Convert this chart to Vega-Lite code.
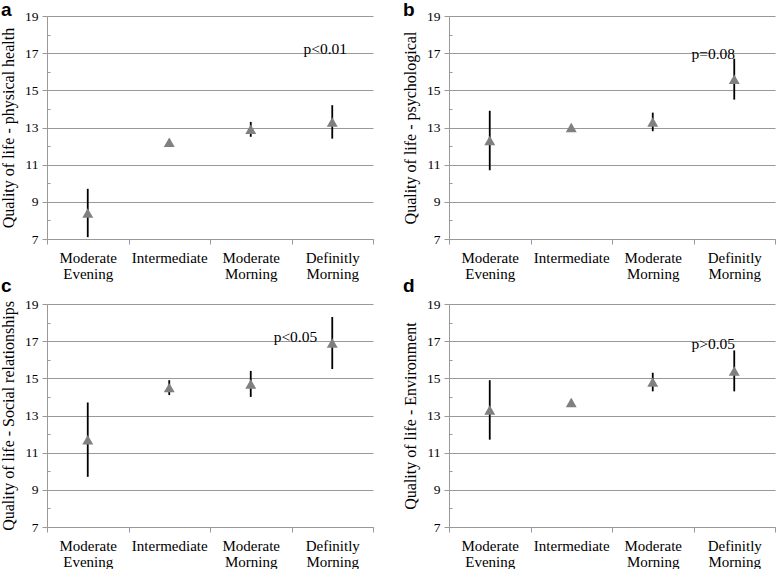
{
  "$schema": "https://vega.github.io/schema/vega-lite/v6.json",
  "padding": {"left": 0, "top": 1, "right": 0, "bottom": 0},
  "background": "white",
  "bounds": "flush",
  "datasets": {
    "pts": [
      {"panel": "a", "cat": "Moderate|Evening", "mean": 8.4, "lo": 7.1, "hi": 9.7},
      {"panel": "a", "cat": "Intermediate", "mean": 12.2, "lo": 12.05, "hi": 12.35},
      {"panel": "a", "cat": "Moderate|Morning", "mean": 12.9, "lo": 12.5, "hi": 13.3},
      {"panel": "a", "cat": "Definitly|Morning", "mean": 13.3, "lo": 12.4, "hi": 14.2},
      {"panel": "b", "cat": "Moderate|Evening", "mean": 12.3, "lo": 10.7, "hi": 13.9},
      {"panel": "b", "cat": "Intermediate", "mean": 13.0, "lo": 12.85, "hi": 13.15},
      {"panel": "b", "cat": "Moderate|Morning", "mean": 13.3, "lo": 12.8, "hi": 13.8},
      {"panel": "b", "cat": "Definitly|Morning", "mean": 15.6, "lo": 14.5, "hi": 16.7},
      {"panel": "c", "cat": "Moderate|Evening", "mean": 11.7, "lo": 9.7, "hi": 13.7},
      {"panel": "c", "cat": "Intermediate", "mean": 14.5, "lo": 14.1, "hi": 14.9},
      {"panel": "c", "cat": "Moderate|Morning", "mean": 14.7, "lo": 14.0, "hi": 15.4},
      {"panel": "c", "cat": "Definitly|Morning", "mean": 16.9, "lo": 15.5, "hi": 18.3},
      {"panel": "d", "cat": "Moderate|Evening", "mean": 13.3, "lo": 11.7, "hi": 14.9},
      {"panel": "d", "cat": "Intermediate", "mean": 13.7, "lo": 13.55, "hi": 13.85},
      {"panel": "d", "cat": "Moderate|Morning", "mean": 14.8, "lo": 14.3, "hi": 15.3},
      {"panel": "d", "cat": "Definitly|Morning", "mean": 15.4, "lo": 14.3, "hi": 16.5}
    ],
    "notes": [
      {"panel": "a", "cat": "Definitly|Morning", "label": "p<0.01", "y": 16.95},
      {"panel": "b", "cat": "Definitly|Morning", "label": "p=0.08", "y": 16.7},
      {"panel": "c", "cat": "Definitly|Morning", "label": "p<0.05", "y": 16.95},
      {"panel": "d", "cat": "Definitly|Morning", "label": "p>0.05", "y": 16.6}
    ]
  },
  "columns": 2,
  "spacing": {"row": 65, "column": 76},
  "concat": [
    {
      "title": {"text": "a", "offset": -11},
      "width": 326, "height": 223,
      "layer": [
        {"data": {"name": "pts"}, "transform": [{"filter": "datum.panel == 'a'"}],
         "mark": {"type": "rule", "color": "black", "strokeWidth": 1.8},
         "encoding": {
           "x": {"field": "cat", "type": "nominal", "sort": null, "scale": {"domain": ["Moderate|Evening", "Intermediate", "Moderate|Morning", "Definitly|Morning"], "paddingInner": 0, "paddingOuter": 0}, "axis": {"title": null}},
           "y": {"field": "lo", "type": "quantitative", "scale": {"domain": [7, 19], "nice": false, "zero": false},
                 "axis": {"title": "Quality of life - physical health",
                          "values": [7, 8, 9, 10, 11, 12, 13, 14, 15, 16, 17, 18, 19],
                          "tickCount": 30,
                          "labelOverlap": false,
                          "labelExpr": "datum.value % 2 == 1 ? format(datum.value, 'd') : ''",
                          "tickSize": {"condition": {"test": "datum.value % 2 == 1", "value": 5}, "value": -3},
                          "gridOpacity": {"condition": {"test": "datum.value % 2 == 1", "value": 1}, "value": 0}}},
           "y2": {"field": "hi"}
         }},
        {"data": {"name": "pts"}, "transform": [{"filter": "datum.panel == 'a'"}],
         "mark": {"type": "point", "shape": "triangle-up", "filled": true, "color": "#808080", "opacity": 1, "size": 120},
         "encoding": {
           "x": {"field": "cat", "type": "nominal"},
           "y": {"field": "mean", "type": "quantitative"}
         }},
        {"data": {"name": "notes"}, "transform": [{"filter": "datum.panel == 'a'"}],
         "mark": {"type": "text", "font": "Liberation Serif", "fontSize": 15.5, "align": "center", "baseline": "alphabetic", "dx": -7, "color": "black"},
         "encoding": {
           "x": {"field": "cat", "type": "nominal"},
           "y": {"field": "y", "type": "quantitative"},
           "text": {"field": "label"}
         }}
      ]
    },
    {
      "title": {"text": "b", "offset": -11},
      "width": 326, "height": 223,
      "layer": [
        {"data": {"name": "pts"}, "transform": [{"filter": "datum.panel == 'b'"}],
         "mark": {"type": "rule", "color": "black", "strokeWidth": 1.8},
         "encoding": {
           "x": {"field": "cat", "type": "nominal", "sort": null, "scale": {"domain": ["Moderate|Evening", "Intermediate", "Moderate|Morning", "Definitly|Morning"], "paddingInner": 0, "paddingOuter": 0}, "axis": {"title": null}},
           "y": {"field": "lo", "type": "quantitative", "scale": {"domain": [7, 19], "nice": false, "zero": false},
                 "axis": {"title": "Quality of life - psychological",
                          "values": [7, 8, 9, 10, 11, 12, 13, 14, 15, 16, 17, 18, 19],
                          "tickCount": 30,
                          "labelOverlap": false,
                          "labelExpr": "datum.value % 2 == 1 ? format(datum.value, 'd') : ''",
                          "tickSize": {"condition": {"test": "datum.value % 2 == 1", "value": 5}, "value": -3},
                          "gridOpacity": {"condition": {"test": "datum.value % 2 == 1", "value": 1}, "value": 0}}},
           "y2": {"field": "hi"}
         }},
        {"data": {"name": "pts"}, "transform": [{"filter": "datum.panel == 'b'"}],
         "mark": {"type": "point", "shape": "triangle-up", "filled": true, "color": "#808080", "opacity": 1, "size": 120},
         "encoding": {
           "x": {"field": "cat", "type": "nominal"},
           "y": {"field": "mean", "type": "quantitative"}
         }},
        {"data": {"name": "notes"}, "transform": [{"filter": "datum.panel == 'b'"}],
         "mark": {"type": "text", "font": "Liberation Serif", "fontSize": 15.5, "align": "center", "baseline": "alphabetic", "dx": -21, "color": "black"},
         "encoding": {
           "x": {"field": "cat", "type": "nominal"},
           "y": {"field": "y", "type": "quantitative"},
           "text": {"field": "label"}
         }}
      ]
    },
    {
      "title": {"text": "c", "offset": 1},
      "width": 326, "height": 223,
      "layer": [
        {"data": {"name": "pts"}, "transform": [{"filter": "datum.panel == 'c'"}],
         "mark": {"type": "rule", "color": "black", "strokeWidth": 1.8},
         "encoding": {
           "x": {"field": "cat", "type": "nominal", "sort": null, "scale": {"domain": ["Moderate|Evening", "Intermediate", "Moderate|Morning", "Definitly|Morning"], "paddingInner": 0, "paddingOuter": 0}, "axis": {"title": null}},
           "y": {"field": "lo", "type": "quantitative", "scale": {"domain": [7, 19], "nice": false, "zero": false},
                 "axis": {"title": "Quality of life - Social relationships",
                          "values": [7, 8, 9, 10, 11, 12, 13, 14, 15, 16, 17, 18, 19],
                          "tickCount": 30,
                          "labelOverlap": false,
                          "labelExpr": "datum.value % 2 == 1 ? format(datum.value, 'd') : ''",
                          "tickSize": {"condition": {"test": "datum.value % 2 == 1", "value": 5}, "value": -3},
                          "gridOpacity": {"condition": {"test": "datum.value % 2 == 1", "value": 1}, "value": 0}}},
           "y2": {"field": "hi"}
         }},
        {"data": {"name": "pts"}, "transform": [{"filter": "datum.panel == 'c'"}],
         "mark": {"type": "point", "shape": "triangle-up", "filled": true, "color": "#808080", "opacity": 1, "size": 120},
         "encoding": {
           "x": {"field": "cat", "type": "nominal"},
           "y": {"field": "mean", "type": "quantitative"}
         }},
        {"data": {"name": "notes"}, "transform": [{"filter": "datum.panel == 'c'"}],
         "mark": {"type": "text", "font": "Liberation Serif", "fontSize": 15.5, "align": "right", "baseline": "alphabetic", "dx": -15, "color": "black"},
         "encoding": {
           "x": {"field": "cat", "type": "nominal"},
           "y": {"field": "y", "type": "quantitative"},
           "text": {"field": "label"}
         }}
      ]
    },
    {
      "title": {"text": "d", "offset": 1},
      "width": 326, "height": 223,
      "layer": [
        {"data": {"name": "pts"}, "transform": [{"filter": "datum.panel == 'd'"}],
         "mark": {"type": "rule", "color": "black", "strokeWidth": 1.8},
         "encoding": {
           "x": {"field": "cat", "type": "nominal", "sort": null, "scale": {"domain": ["Moderate|Evening", "Intermediate", "Moderate|Morning", "Definitly|Morning"], "paddingInner": 0, "paddingOuter": 0}, "axis": {"title": null}},
           "y": {"field": "lo", "type": "quantitative", "scale": {"domain": [7, 19], "nice": false, "zero": false},
                 "axis": {"title": "Quality of life - Environment",
                          "values": [7, 8, 9, 10, 11, 12, 13, 14, 15, 16, 17, 18, 19],
                          "tickCount": 30,
                          "labelOverlap": false,
                          "labelExpr": "datum.value % 2 == 1 ? format(datum.value, 'd') : ''",
                          "tickSize": {"condition": {"test": "datum.value % 2 == 1", "value": 5}, "value": -3},
                          "gridOpacity": {"condition": {"test": "datum.value % 2 == 1", "value": 1}, "value": 0}}},
           "y2": {"field": "hi"}
         }},
        {"data": {"name": "pts"}, "transform": [{"filter": "datum.panel == 'd'"}],
         "mark": {"type": "point", "shape": "triangle-up", "filled": true, "color": "#808080", "opacity": 1, "size": 120},
         "encoding": {
           "x": {"field": "cat", "type": "nominal"},
           "y": {"field": "mean", "type": "quantitative"}
         }},
        {"data": {"name": "notes"}, "transform": [{"filter": "datum.panel == 'd'"}],
         "mark": {"type": "text", "font": "Liberation Serif", "fontSize": 15.5, "align": "center", "baseline": "alphabetic", "dx": -21, "color": "black"},
         "encoding": {
           "x": {"field": "cat", "type": "nominal"},
           "y": {"field": "y", "type": "quantitative"},
           "text": {"field": "label"}
         }}
      ]
    }
  ],
  "config": {
    "view": {"stroke": null},
    "title": {"anchor": "start", "frame": "group", "dx": -46, "baseline": "alphabetic", "font": "Liberation Sans", "fontWeight": "bold", "fontSize": 19, "color": "black"},
    "axisX": {
      "labelExpr": "split(datum.label, '|')",
      "labelAngle": 0,
      "labelFont": "Liberation Serif",
      "labelFontSize": 15,
      "labelColor": "black",
      "labelLineHeight": 16,
      "labelPadding": 6,
      "tickBand": "extent",
      "tickSize": 5,
      "tickColor": "#999999",
      "domainColor": "#999999",
      "grid": false
    },
    "axisY": {
      "labelFont": "Liberation Serif",
      "labelFontSize": 13.5,
      "labelColor": "black",
      "labelPadding": 4,
      "tickColor": "#999999",
      "domainColor": "#999999",
      "grid": true,
      "gridColor": "#999999",
      "titleFont": "Liberation Serif",
      "titleFontSize": 16,
      "titleFontWeight": "normal",
      "titleColor": "black",
      "titlePadding": 8
    }
  }
}
